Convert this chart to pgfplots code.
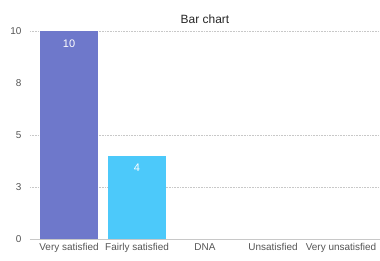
\documentclass[border=0pt]{standalone}
\usepackage{fontspec}
\setmainfont{Liberation Sans}
\usepackage{pgfplots}
\pgfplotsset{compat=1.18}
\definecolor{barA}{HTML}{6E78CB}
\definecolor{barB}{HTML}{4CC9FA}
\definecolor{tickgray}{HTML}{555555}
\definecolor{gridgray}{HTML}{C8C8C8}
\begin{document}
\begin{tikzpicture}[x=1bp,y=1bp]
\path[use as bounding box] (-30,-22) rectangle (350,239);
\begin{axis}[
  at={(0,0)}, anchor=south west,
  scale only axis,
  width=350bp, height=208bp,
  xmin=-0.574, xmax=4.574,
  ymin=0, ymax=10,
  axis line style={draw=none},
  xtick={0,1,2,3,4},
  xticklabels={Very satisfied,Fairly satisfied,DNA,Unsatisfied,Very unsatisfied},
  ytick={0,2.5,5,7.5,10},
  yticklabels={0,3,5,8,10},
  major tick length=0pt,
  /pgf/number format/assume math mode=true,
  tick label style={font=\fontsize{10}{12}\selectfont, text=tickgray},
  xticklabel style={yshift=-1bp},
  yticklabel style={xshift=-5bp},
  clip=false,
  title={Bar chart},
  title style={font=\fontsize{12}{14}\selectfont, text=black!85, yshift=-2bp},
  ybar, bar width=58bp, bar shift=0pt,
  nodes near coords,
  every node near coord/.append style={anchor=north, yshift=-5bp, text=white, font=\fontsize{11}{13}\selectfont},
]
\draw[gridgray, densely dotted, line width=0.6bp] (axis cs:-0.574,10) -- (axis cs:4.574,10);
\draw[gridgray, densely dotted, line width=0.6bp] (axis cs:-0.574,5) -- (axis cs:4.574,5);
\draw[gridgray, densely dotted, line width=0.6bp] (axis cs:-0.574,2.5) -- (axis cs:4.574,2.5);
\draw[gridgray, line width=0.6bp] (axis cs:-0.574,0) -- (axis cs:4.574,0);
\addplot[fill=barA, draw=none] coordinates {(0,10)};
\addplot[fill=barB, draw=none] coordinates {(1,4)};
\end{axis}
\end{tikzpicture}
\end{document}
